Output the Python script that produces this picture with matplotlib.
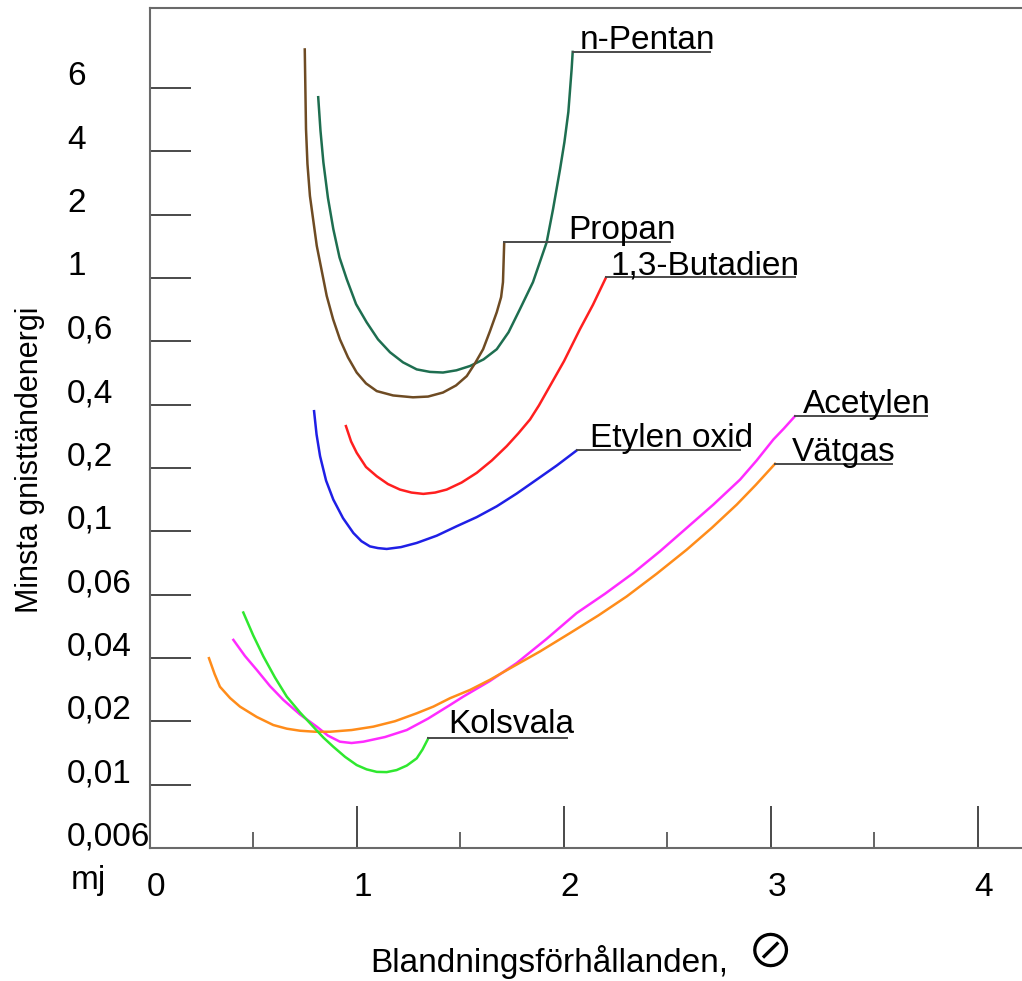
"""Minimum spark ignition energy against mixture ratio for a few gases."""

from __future__ import annotations

import matplotlib
import numpy as np

matplotlib.use("Agg")

import matplotlib.pyplot as plt
from matplotlib.ticker import FixedLocator, NullFormatter, NullLocator


OUTPUT_PATH = "out.png"
DPI = 100

# y levels in mJ, drawn at equal spacing on the original chart
Y_TICK_VALUES = [0.006, 0.01, 0.02, 0.04, 0.06, 0.1, 0.2, 0.4, 0.6, 1, 2, 4, 6]
Y_TICK_LABELS = ["0,006", "0,01", "0,02", "0,04", "0,06", "0,1", "0,2",
                 "0,4", "0,6", "1", "2", "4", "6"]
X_TICK_VALUES = [0, 1, 2, 3, 4]
X_TICK_LABELS = ["0", "1", "2", "3", "4"]
X_MINOR_VALUES = [0.5, 1.5, 2.5, 3.5]

GAS_NAMES = ["n-Pentan", "Propan", "1,3-Butadien", "Etylen oxid",
             "Acetylen", "Vätgas", "Kolsvala"]

PENTAN_X = [0.813, 0.824, 0.838, 0.860, 0.886, 0.916, 0.951, 0.996, 1.047,
            1.102, 1.160, 1.223, 1.289, 1.353, 1.416, 1.481, 1.547, 1.612,
            1.676, 1.733, 1.788, 1.851, 1.917, 1.948, 1.982, 2.003, 2.022,
            2.038, 2.043]
PENTAN_Y = [5.65, 4.56, 3.54, 2.40, 1.705, 1.25, 0.989, 0.809, 0.699, 0.609,
            0.559, 0.524, 0.501, 0.493, 0.491, 0.498, 0.512, 0.534, 0.570,
            0.645, 0.777, 0.966, 1.474, 2.12, 3.29, 4.24, 5.14, 6.78, 7.55]

PROPAN_X = [0.748, 0.754, 0.761, 0.773, 0.806, 0.854, 0.885, 0.918, 0.957,
            0.999, 1.044, 1.096, 1.175, 1.271, 1.344, 1.416, 1.479, 1.531,
            1.571, 1.610, 1.643, 1.676, 1.697, 1.706, 1.712]
PROPAN_Y = [7.67, 4.61, 3.48, 2.45, 1.42, 0.865, 0.716, 0.609, 0.541, 0.491,
            0.458, 0.436, 0.424, 0.419, 0.421, 0.432, 0.452, 0.480, 0.521,
            0.570, 0.650, 0.758, 0.856, 0.966, 1.474]

BUTADIEN_X = [0.947, 0.972, 0.999, 1.044, 1.096, 1.150, 1.208, 1.264, 1.321,
              1.378, 1.434, 1.506, 1.579, 1.652, 1.724, 1.780, 1.837, 1.880,
              1.924, 2.001, 2.078, 2.141, 2.204]
BUTADIEN_Y = [0.316, 0.267, 0.236, 0.202, 0.1825, 0.1676, 0.1578, 0.1527,
              0.1505, 0.1527, 0.1578, 0.1704, 0.1894, 0.2169, 0.2537, 0.2916,
              0.340, 0.3964, 0.441, 0.528, 0.661, 0.805, 1.004]

ETYLENOXID_X = [0.793, 0.805, 0.822, 0.851, 0.886, 0.933, 0.983, 1.022,
                1.063, 1.102, 1.144, 1.213, 1.289, 1.386, 1.482, 1.579, 1.676,
                1.772, 1.869, 1.966, 2.062]
ETYLENOXID_Y = [0.372, 0.2884, 0.2274, 0.1741, 0.1414, 0.1154, 0.0986,
                0.0923, 0.0885, 0.0873, 0.0867, 0.0880, 0.0910, 0.0965,
                0.1056, 0.1167, 0.1314, 0.151, 0.176, 0.2053, 0.242]

ACETYLEN_X = [0.403, 0.459, 0.516, 0.580, 0.644, 0.725, 0.806, 0.860, 0.918,
              0.974, 1.031, 1.136, 1.241, 1.344, 1.450, 1.514, 1.643, 1.772,
              1.917, 2.062, 2.199, 2.336, 2.465, 2.594, 2.723, 2.852, 2.932,
              3.013, 3.064, 3.117]
ACETYLEN_Y = [0.0449, 0.0405, 0.0351, 0.0294, 0.0253, 0.02155, 0.01886,
              0.0171, 0.0160, 0.01577, 0.0160, 0.01684, 0.01818, 0.0206,
              0.0239, 0.0262, 0.0311, 0.0378, 0.0452, 0.0533, 0.0604, 0.0714,
              0.0851, 0.1037, 0.1339, 0.176, 0.2169, 0.273, 0.308, 0.352]

VATGAS_X = [0.285, 0.312, 0.338, 0.387, 0.435, 0.516, 0.596, 0.661, 0.725,
            0.798, 0.870, 0.975, 1.079, 1.184, 1.289, 1.370, 1.450, 1.547,
            1.643, 1.740, 1.885, 2.030, 2.167, 2.304, 2.449, 2.594, 2.715,
            2.836, 2.928, 3.021]
VATGAS_Y = [0.0399, 0.0336, 0.0292, 0.0258, 0.02348, 0.02097, 0.0192,
            0.01845, 0.01804, 0.01784, 0.01784, 0.01818, 0.01886, 0.02002,
            0.02183, 0.0235, 0.02575, 0.0282, 0.0315, 0.0357, 0.0417, 0.0469,
            0.0525, 0.0593, 0.0710, 0.0862, 0.1037, 0.1339, 0.1661, 0.2092]

KOLSVALA_X = [0.451, 0.499, 0.548, 0.604, 0.661, 0.725, 0.789, 0.838, 0.886,
              0.943, 0.999, 1.047, 1.096, 1.144, 1.192, 1.241, 1.289, 1.317,
              1.345]
KOLSVALA_Y = [0.0535, 0.0462, 0.0404, 0.0323, 0.0262, 0.02203, 0.01886,
              0.01674, 0.01514, 0.01355, 0.01239, 0.01182, 0.0115, 0.01147,
              0.01173, 0.01232, 0.01333, 0.01468, 0.0166]

# layout: where each name's underline stops, and where its text sits (px)
LEADER_END_X = [2.707, 2.513, 3.117, 2.852, 3.755, 3.586, 2.015]
LABEL_OFFSETS = [(7, 3), (64, 3), (4, 3), (13, 3), (8, 3), (17, 3), (20, 5)]
COLORS = ["#1e6e50", "#6e4b23", "#ff1f1f", "#1f1fe6", "#ff2bff",
          "#ff8c1a", "#2fe82f"]

FONT = "Liberation Sans"
FONT_SIZE = 24
AXIS_GREY = "#6a6a6a"
TICK_GREY = "#3a3a3a"

LOG_LEVELS = np.log10(Y_TICK_VALUES)
LEVEL_INDEX = np.arange(len(Y_TICK_VALUES), dtype=float)
LOW_STEP = LOG_LEVELS[1] - LOG_LEVELS[0]
HIGH_STEP = LOG_LEVELS[-1] - LOG_LEVELS[-2]


def to_level(values):
    """Map mJ values onto the chart's evenly spaced levels."""

    logs = np.log10(np.clip(np.asarray(values, dtype=float), 1e-12, None))
    level = np.interp(logs, LOG_LEVELS, LEVEL_INDEX)
    level = np.where(logs < LOG_LEVELS[0], (logs - LOG_LEVELS[0]) / LOW_STEP, level)
    level = np.where(
        logs > LOG_LEVELS[-1],
        LEVEL_INDEX[-1] + (logs - LOG_LEVELS[-1]) / HIGH_STEP,
        level,
    )
    return level


def from_level(level):
    """Inverse of to_level."""

    level = np.asarray(level, dtype=float)
    logs = np.interp(level, LEVEL_INDEX, LOG_LEVELS)
    logs = np.where(level < 0, LOG_LEVELS[0] + level * LOW_STEP, logs)
    logs = np.where(
        level > LEVEL_INDEX[-1],
        LOG_LEVELS[-1] + (level - LEVEL_INDEX[-1]) * HIGH_STEP,
        logs,
    )
    return 10.0 ** logs


def build_figure():
    fig = plt.figure(figsize=(1022 / DPI, 981 / DPI), dpi=DPI)
    ax = fig.add_axes([150 / 1022, 1 - 848 / 981, 872 / 1022, 840 / 981])

    ax.set_yscale("function", functions=(to_level, from_level))
    ax.set_xlim(0, 872 / 206.9)
    ax.set_ylim(0.006, 10)

    series = [
        (PENTAN_X, PENTAN_Y), (PROPAN_X, PROPAN_Y), (BUTADIEN_X, BUTADIEN_Y),
        (ETYLENOXID_X, ETYLENOXID_Y), (ACETYLEN_X, ACETYLEN_Y),
        (VATGAS_X, VATGAS_Y), (KOLSVALA_X, KOLSVALA_Y),
    ]
    for name, (xs, ys), color, end_x, (dx, dy) in zip(
        GAS_NAMES, series, COLORS, LEADER_END_X, LABEL_OFFSETS, strict=True
    ):
        ax.plot(xs, ys, color=color, linewidth=1.8, solid_joinstyle="round")
        ax.plot([xs[-1], end_x], [ys[-1], ys[-1]], color="#4a4a4a", linewidth=1.4)
        ax.annotate(
            name, xy=(xs[-1], ys[-1]), xytext=(dx, dy), textcoords="offset pixels",
            ha="left", va="baseline", fontsize=FONT_SIZE, family=FONT,
        )

    # axes frame
    for side in ("left", "bottom", "top"):
        ax.spines[side].set_color(AXIS_GREY)
        ax.spines[side].set_linewidth(1.5)
    ax.spines["right"].set_visible(False)

    ax.yaxis.set_major_locator(FixedLocator(Y_TICK_VALUES[1:]))
    ax.yaxis.set_minor_locator(NullLocator())
    ax.yaxis.set_major_formatter(NullFormatter())
    ax.tick_params(axis="y", direction="in", length=29.5, width=1.3,
                   color=TICK_GREY, left=True, right=False)

    ax.xaxis.set_major_locator(FixedLocator(X_TICK_VALUES))
    ax.xaxis.set_minor_locator(FixedLocator(X_MINOR_VALUES))
    ax.xaxis.set_major_formatter(NullFormatter())
    ax.tick_params(axis="x", which="major", direction="in", length=30,
                   width=1.3, color=TICK_GREY, top=False)
    ax.tick_params(axis="x", which="minor", direction="in", length=11.5,
                   width=1.1, color=TICK_GREY, top=False)

    for value, label in zip(Y_TICK_VALUES, Y_TICK_LABELS, strict=True):
        ax.annotate(
            label, xy=(0, value), xycoords=ax.get_yaxis_transform(),
            xytext=(-83, 11), textcoords="offset pixels",
            ha="left", va="center", fontsize=FONT_SIZE, family=FONT,
            annotation_clip=False,
        )
    for value, label in zip(X_TICK_VALUES, X_TICK_LABELS, strict=True):
        ax.annotate(
            label, xy=(value, 0), xycoords=ax.get_xaxis_transform(),
            xytext=(6, -40), textcoords="offset pixels",
            ha="center", va="center", fontsize=FONT_SIZE, family=FONT,
            annotation_clip=False,
        )

    fig.text(88 / 1022, 1 - 880 / 981, "mj", ha="center", va="center",
             fontsize=FONT_SIZE, family=FONT)
    fig.text(30 / 1022, 1 - 460 / 981, "Minsta gnisttändenergi", rotation=90,
             ha="center", va="center", fontsize=22, family=FONT)
    fig.text(370 / 1022, 1 - 962 / 981, "Blandningsförhållanden,",
             ha="left", va="center", fontsize=FONT_SIZE, family=FONT)
    fig.text(770 / 1022, 1 - 979 / 981, "\u2298", ha="center", va="bottom",
             fontsize=34, family=["Noto Sans CJK JP", "DejaVu Sans"])
    return fig


def main() -> int:
    fig = build_figure()
    fig.savefig(OUTPUT_PATH, dpi=DPI)
    plt.close(fig)
    return 0


if __name__ == "__main__":
    raise SystemExit(main())
